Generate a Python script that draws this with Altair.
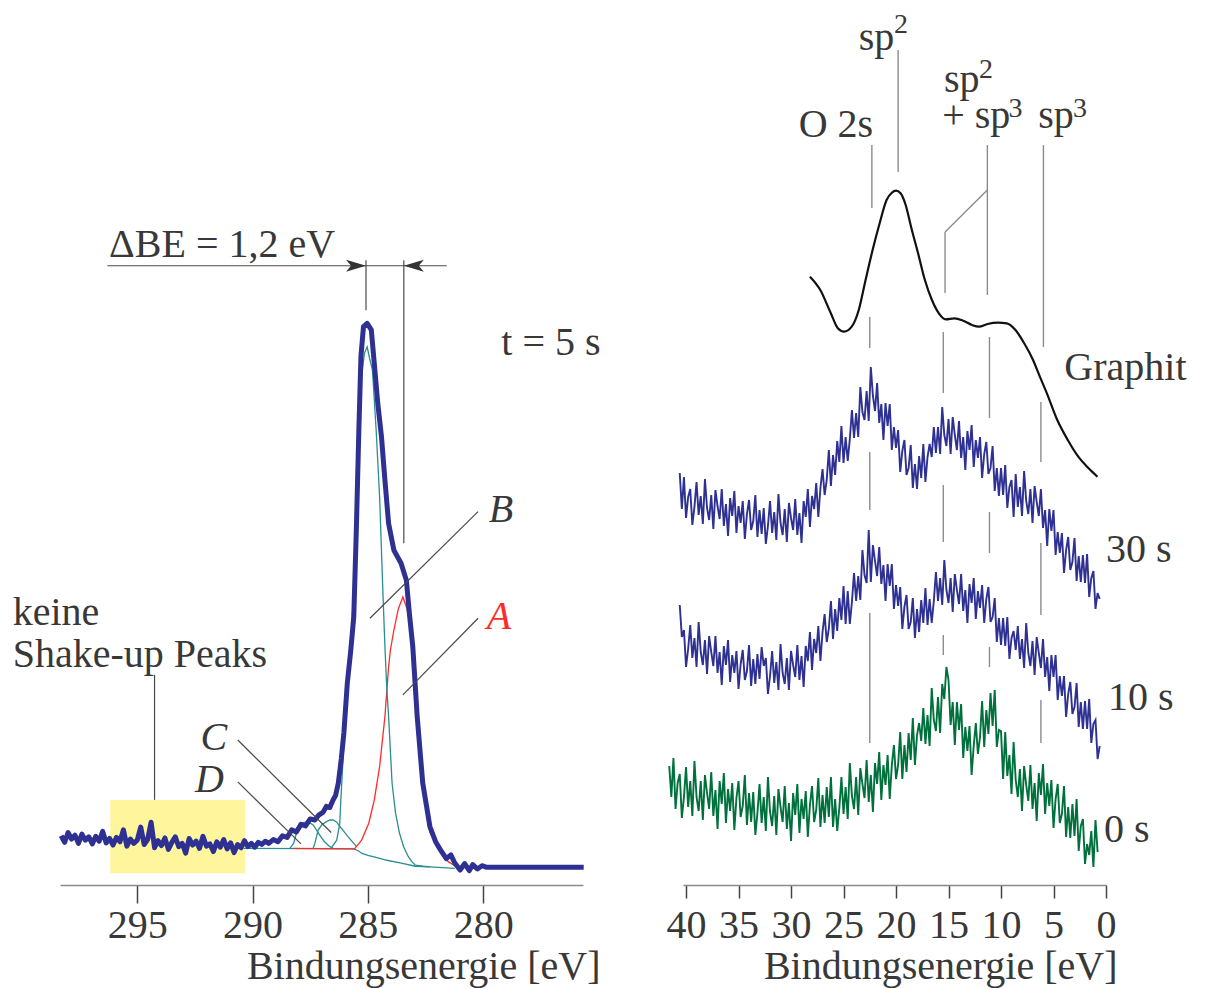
import altair as alt
import pandas as pd

FONT = "Liberation Serif"
INK = "#383838"
LEADER = "#4a4a4a"
GUIDE = "#8c8c8c"
BLUE = "#2e3192"
GREEN = "#00703c"
TEAL = "#2b8e92"
RED = "#ff2b2b"
YELLOW = "#fff59c"

# ---------------- C 1s core level, t = 5 s ----------------
# binding energy in eV, intensity in % of the maximum
c1s_noisy_start = 298.3
c1s_noisy_step = 0.15
c1s_noisy = [5.8, 4.6, 6.4, 5.2, 5.9, 4.4, 6.1, 5.0, 5.6, 4.3,
             5.7, 4.8, 6.6, 4.5, 5.3, 4.1, 5.5, 4.7, 6.9, 3.9,
             5.2, 4.4, 5.0, 7.4, 4.2, 5.1, 8.3, 3.6, 4.9, 4.0,
             5.4, 3.3, 4.6, 5.6, 3.8, 4.4, 2.6, 5.3, 4.1, 4.8,
             3.5, 5.7, 3.9, 4.3, 2.9, 4.7, 3.7, 5.1, 3.4, 4.5,
             2.7, 4.2, 3.6, 4.9, 3.8, 4.4, 3.7, 4.6, 4.2, 4.8]
c1s_ev = [289.3, 289.1, 288.9, 288.7, 288.5, 288.3, 288.1, 287.9, 287.7, 287.5,
          287.3, 287.13, 286.95, 286.8, 286.65, 286.52, 286.4, 286.28, 286.15, 286.04,
          285.89, 285.74, 285.61, 285.5, 285.39, 285.3, 285.19, 285.03, 284.85, 284.72,
          284.57, 284.41, 284.26, 284.1, 283.87, 283.56, 283.33, 283.2, 283.05, 282.86,
          282.62, 282.31, 282.05, 281.85, 281.6, 281.4, 281.23, 281.0, 280.8, 280.6,
          280.45, 280.25, 280.05, 279.84, 275.64]
c1s_int = [4.4, 5.1, 4.7, 5.8, 5.5, 6.9, 6.5, 7.9, 7.6, 8.9,
           8.7, 9.6, 10.1, 11.2, 11.0, 12.3, 13.2, 15.5, 20.0, 24.7,
           33.9, 39.9, 46.1, 62.0, 80.4, 93.9, 99.4, 100.0, 98.8, 92.6,
           85.3, 79.2, 71.2, 63.2, 58.3, 55.9, 52.8, 46.7, 40.5, 27.7,
           15.5, 7.5, 4.6, 3.2, 1.6, 2.3, 0.8, -0.5, 0.7, -0.6,
           0.5, -0.3, 0.3, 0.0, 0.0]

background_ev = [290.4, 285.6, 285.4, 285.27, 285.0, 284.6, 284.18, 283.6, 282.94, 282.3, 281.23]
background_int = [3.5, 3.4, 3.0, 2.6, 2.2, 1.8, 1.3, 0.8, 0.2, 0.1, -0.2]

peak_a_ev = [288.22, 285.58, 285.5, 285.27, 284.96, 284.72, 284.49, 284.26, 284.1, 284.02, 283.87,
             283.68, 283.48, 283.3, 283.2, 283.09, 282.86, 282.62, 282.31, 281.85, 281.5, 281.23]
peak_a_int = [3.5, 3.4, 3.8, 5.0, 8.1, 12.4, 18.5, 27.7, 36.9, 40.0, 43.6,
              47.5, 49.7, 47.5, 45.0, 40.0, 26.0, 14.5, 6.5, 2.6, 1.0, 0.3]

peak_b_ev = [286.6, 286.35, 286.22, 286.17, 286.05, 285.9, 285.72, 285.58, 285.47, 285.37,
             285.28, 285.15, 285.03, 284.92, 284.8, 284.64, 284.49, 284.34, 284.26, 284.18,
             284.1, 283.95, 283.8, 283.63, 283.45, 283.25, 283.1, 282.94, 282.6, 282.31]
peak_b_int = [3.5, 5.0, 8.0, 12.4, 22.0, 32.0, 42.0, 55.0, 68.0, 80.0,
              90.0, 94.5, 95.7, 93.5, 91.4, 80.4, 68.1, 49.7, 40.6, 33.0,
              27.7, 15.5, 10.0, 6.3, 3.8, 2.0, 1.1, 0.4, 0.2, 0.1]

peak_c_ev = [287.37, 287.3, 287.15, 286.98, 286.79, 286.65, 286.5, 286.35, 286.21, 286.04, 285.85, 285.65, 285.49]
peak_c_int = [3.5, 4.4, 6.9, 7.9, 8.4, 8.7, 8.7, 8.3, 7.5, 6.6, 5.6, 4.6, 3.8]

peak_d_ev = [288.38, 288.22, 288.06, 287.83, 287.6, 287.37, 287.13, 286.9, 286.65, 286.5]
peak_d_int = [3.5, 4.4, 6.9, 8.2, 8.4, 7.8, 6.2, 4.8, 3.8, 3.5]

# ---------------- valence band spectra (0.2 eV sampling) ----------------
vb_step = 0.2
vb30_start = 40.6
vb30 = [41.2, 37.6, 40.8, 36.7, 38.8, 39.6, 36.0, 37.8, 40.3, 37.0,
        38.9, 36.1, 40.6, 37.7, 36.5, 39.0, 35.6, 39.5, 37.9, 36.6,
        39.6, 35.9, 38.1, 34.9, 38.7, 36.9, 39.4, 35.2, 37.9, 36.2,
        38.4, 34.6, 37.1, 38.5, 35.5, 36.4, 39.0, 34.8, 37.5, 35.1,
        37.7, 34.1, 35.9, 38.4, 35.2, 37.3, 34.5, 39.1, 36.2, 35.0,
        37.6, 34.3, 38.2, 36.7, 35.5, 38.6, 35.0, 37.2, 34.2, 38.4,
        36.8, 39.6, 35.8, 38.9, 37.6, 40.2, 36.8, 39.7, 41.6, 39.0,
        40.5, 43.5, 39.9, 43.0, 41.0, 44.4, 42.3, 45.9, 42.2, 44.8,
        42.4, 44.6, 47.5, 44.7, 47.2, 44.8, 49.8, 47.3, 46.5, 49.4,
        46.4, 51.8, 48.9, 47.4, 50.2, 46.2, 48.1, 44.5, 48.2, 45.9,
        48.1, 43.5, 45.8, 43.7, 45.5, 41.3, 43.4, 44.5, 41.0, 41.7,
        44.0, 39.7, 42.1, 39.6, 42.9, 40.7, 44.1, 40.3, 42.8, 44.1,
        42.8, 45.8, 43.2, 45.8, 43.1, 47.8, 45.0, 43.9, 46.6, 43.1,
        46.8, 45.0, 43.5, 46.4, 42.7, 44.8, 41.5, 45.4, 43.5, 46.0,
        41.8, 44.5, 42.7, 44.8, 40.7, 43.1, 44.3, 41.1, 41.7, 43.9,
        39.4, 41.7, 38.9, 41.7, 39.0, 42.0, 37.7, 39.8, 40.5, 36.8,
        41.1, 37.8, 39.8, 36.9, 41.4, 38.4, 37.1, 39.6, 36.2, 39.9,
        38.3, 36.9, 39.6, 35.7, 37.5, 33.9, 37.6, 35.4, 37.5, 33.0,
        35.3, 33.2, 35.2, 31.2, 33.5, 34.8, 31.5, 32.3, 34.7, 30.4,
        32.9, 30.3, 33.0, 30.2, 33.1, 28.8, 30.7, 31.4, 27.6, 29.2,
        28.6]
vb10_start = 40.6
vb10 = [28.0, 24.8, 25.5, 21.8, 23.6, 26.0, 22.7, 24.7, 21.8, 26.3,
        23.3, 22.0, 24.5, 21.1, 24.9, 23.3, 21.9, 24.9, 21.2, 23.3,
        20.0, 23.9, 22.0, 24.5, 20.3, 23.0, 21.2, 23.4, 19.6, 22.1,
        23.5, 20.5, 21.4, 24.0, 19.9, 22.6, 20.1, 23.1, 20.6, 23.8,
        21.9, 22.7, 19.1, 20.9, 23.4, 20.2, 22.3, 19.5, 24.1, 21.2,
        20.1, 22.7, 19.5, 23.4, 22.0, 20.8, 24.0, 20.5, 22.9, 19.8,
        23.9, 22.4, 25.3, 21.5, 24.6, 23.2, 25.9, 22.4, 25.3, 27.1,
        24.3, 25.6, 28.4, 24.6, 27.6, 25.4, 28.7, 26.5, 29.9, 26.1,
        29.4, 26.1, 28.3, 31.2, 28.4, 30.9, 28.5, 33.5, 31.0, 30.2,
        35.5, 30.3, 34.0, 32.4, 30.9, 33.8, 30.1, 32.0, 28.4, 32.1,
        29.9, 32.1, 27.6, 30.0, 27.9, 29.8, 25.6, 27.8, 29.0, 25.6,
        26.3, 28.7, 24.7, 27.6, 25.3, 28.5, 26.2, 29.7, 26.0, 28.6,
        26.2, 28.4, 31.3, 28.4, 30.7, 28.0, 32.5, 29.5, 28.2, 30.7,
        27.3, 31.1, 29.5, 28.1, 31.1, 27.4, 29.5, 26.2, 30.1, 28.2,
        30.7, 26.6, 29.4, 27.7, 30.0, 26.2, 28.6, 29.8, 26.3, 26.8,
        28.7, 24.3, 26.7, 24.0, 26.7, 23.9, 26.8, 22.6, 24.7, 25.4,
        23.5, 25.9, 22.6, 24.6, 21.7, 26.2, 23.2, 21.9, 24.4, 21.0,
        24.8, 23.2, 21.7, 24.6, 20.8, 22.8, 19.4, 23.0, 20.8, 23.0,
        18.5, 20.9, 18.9, 20.9, 16.8, 19.1, 20.3, 17.1, 17.8, 20.2,
        15.8, 18.3, 15.6, 18.4, 15.6, 18.6, 14.2, 16.1, 16.5, 12.6,
        13.9]
vb0_start = 41.6
vb0 = [11.9, 8.8, 12.7, 7.6, 10.2, 11.1, 6.7, 8.8, 11.8, 7.8,
       10.4, 6.9, 12.4, 8.8, 7.4, 10.4, 6.5, 11.0, 9.2, 7.6,
       11.3, 6.9, 9.5, 5.6, 10.4, 8.1, 11.2, 6.2, 9.6, 7.4,
       10.2, 5.5, 8.7, 10.4, 6.8, 7.9, 11.0, 6.0, 9.2, 6.3,
       9.3, 5.0, 7.2, 10.1, 6.2, 8.8, 5.4, 10.8, 7.3, 5.9,
       8.9, 5.0, 9.6, 7.8, 6.3, 9.9, 5.6, 8.2, 4.4, 9.2,
       7.0, 10.1, 5.2, 8.6, 6.6, 9.4, 4.8, 8.0, 9.9, 6.3,
       7.5, 10.7, 5.8, 9.0, 6.2, 9.8, 6.8, 10.8, 5.8, 8.6,
       5.4, 7.7, 10.8, 7.1, 9.8, 6.6, 12.2, 8.9, 7.6, 10.8,
       7.0, 11.7, 10.1, 8.7, 12.5, 8.3, 11.0, 7.3, 12.2, 10.1,
       13.3, 8.5, 12.0, 10.0, 13.0, 8.6, 12.0, 14.0, 10.6, 12.0,
       15.3, 10.6, 14.0, 11.3, 15.2, 12.5, 16.7, 12.0, 15.0, 16.2,
       14.4, 17.7, 14.1, 17.0, 13.9, 19.7, 16.5, 15.4, 18.8, 15.2,
       20.1, 18.6, 21.8, 20.5, 16.0, 18.3, 14.0, 18.3, 15.5, 18.1,
       12.7, 15.8, 13.4, 15.9, 11.0, 13.9, 16.2, 13.1, 14.8, 18.4,
       13.8, 17.5, 15.1, 19.2, 15.9, 19.5, 13.8, 15.5, 15.4, 10.6,
       15.3, 10.9, 13.0, 9.1, 14.3, 10.5, 8.8, 11.6, 7.4, 11.9,
       10.0, 8.4, 12.0, 7.6, 10.2, 6.4, 11.2, 9.0, 12.1, 7.1,
       10.2, 7.9, 10.5, 5.7, 8.6, 10.1, 6.2, 7.1, 9.9, 4.8,
       7.8, 4.7, 8.1, 4.9, 8.6, 3.4, 5.9, 6.6, 2.1, 4.1,
       3.0, 5.4, 1.8, 6.5, 3.3]

graphit_ev = [28.2, 27.21, 26.21, 25.54, 24.95, 24.22, 23.55, 22.9, 22.23, 21.56,
              20.9, 20.4, 20.0, 19.57, 19.08, 18.57, 17.9, 17.25, 16.58, 15.92,
              15.26, 14.43, 13.6, 12.76, 12.1, 11.28, 10.28, 9.45, 8.62, 7.79,
              6.95, 6.3, 5.63, 4.64, 3.64, 2.64, 1.65, 0.82]
graphit_int = [60.83, 59.5, 57.17, 55.67, 55.33, 55.83, 57.5, 60.5, 63.5, 66.17,
               68.5, 69.23, 69.43, 69.17, 68.0, 65.83, 63.17, 60.5, 58.5, 57.17,
               56.57, 56.67, 56.43, 56.0, 55.83, 56.1, 56.23, 56.17, 55.5, 54.17,
               52.5, 50.83, 49.17, 46.5, 44.5, 42.83, 41.67, 40.83]

# guide lines for O 2s, sp2, sp2+sp3 and sp3 positions: (x, x2, y, y2)
vb_guides = [
    (19.8, 19.8, 83.5, 71.3), (22.3, 22.3, 74.0, 67.7), (11.3, 11.3, 74.0, 59.0),
    (11.3, 15.33, 69.5, 65.3), (15.33, 15.33, 65.3, 59.2), (5.96, 5.96, 74.0, 53.8),
    (22.5, 22.5, 56.8, 53.7), (22.5, 22.5, 43.3, 37.5), (22.5, 22.5, 27.2, 14.2),
    (15.5, 15.5, 55.3, 49.2), (15.5, 15.5, 40.0, 34.3), (15.5, 15.5, 25.0, 23.0),
    (11.1, 11.1, 54.8, 46.7), (11.1, 11.1, 37.3, 33.2), (11.1, 11.1, 23.8, 21.8),
    (6.2, 6.2, 48.3, 42.3), (6.2, 6.2, 34.2, 27.0), (6.2, 6.2, 18.5, 14.2),
]


def grid(start, step, n):
    return [round(start - step * i, 3) for i in range(n)]


# ================= left panel =================
L_SCALE_X = alt.Scale(domain=[298.35, 275.67], nice=False, zero=False)
L_SCALE_Y = alt.Scale(domain=[-3.25, 156.7], nice=False, zero=False)
L_AXIS = alt.Axis(values=[295, 290, 285, 280], format="d", grid=False,
                  tickSize=18, tickWidth=1.5, tickColor="#444444",
                  domainColor="#8a8a8a", domainWidth=1.5,
                  labelFont=FONT, labelFontSize=40, labelColor=INK, labelPadding=2,
                  labelFlush=False, labelOverlap=False,
                  title="Bindungsenergie [eV]", titleFont=FONT, titleFontSize=40,
                  titleFontWeight="normal", titleColor=INK, titleAlign="right",
                  titleBaseline="alphabetic", titleX=540, titleY=93)


def lx(field):
    return alt.X(f"{field}:Q", scale=L_SCALE_X, axis=L_AXIS)


def ly(field):
    return alt.Y(f"{field}:Q", scale=L_SCALE_Y, axis=None)


main_df = pd.DataFrame({
    "ev": grid(c1s_noisy_start, c1s_noisy_step, len(c1s_noisy)) + c1s_ev,
    "inten": c1s_noisy + c1s_int,
})

comp_rows = []
for name, evs, ints, col in [("Untergrund", background_ev, background_int, TEAL),
                             ("D", peak_d_ev, peak_d_int, TEAL),
                             ("C", peak_c_ev, peak_c_int, TEAL),
                             ("A", peak_a_ev, peak_a_int, RED),
                             ("B", peak_b_ev, peak_b_int, TEAL)]:
    for e, v in zip(evs, ints):
        comp_rows.append({"ev": e, "inten": v, "series": name, "color": col})
comp_df = pd.DataFrame(comp_rows)

box = alt.Chart(pd.DataFrame({"x0": [296.17], "x1": [290.32], "y0": [12.4], "y1": [-1.1]})).mark_rect(
    color=YELLOW).encode(x=lx("x0"), x2="x1", y=ly("y0"), y2="y1")

components = alt.Chart(comp_df).mark_line(strokeWidth=1.3).encode(
    x=lx("ev"), y=ly("inten"), detail="series:N", color=alt.Color("color:N", scale=None))

measured = alt.Chart(main_df).mark_line(color=BLUE, strokeWidth=5, strokeJoin="round").encode(
    x=lx("ev"), y=ly("inten"))

leader_df = pd.DataFrame({
    "x0": [280.22, 280.22, 290.64, 290.64, 294.25, 285.08, 283.44, 296.30],
    "x1": [284.91, 283.48, 286.59, 287.90, 294.25, 285.08, 283.44, 281.58],
    "y0": [65.4, 45.8, 23.4, 15.7, 35.4, 111.6, 111.6, 110.6],
    "y1": [45.8, 31.7, 6.4, 4.3, 12.4, 102.4, 59.6, 110.6],
})
leaders = alt.Chart(leader_df).mark_rule(color=LEADER, strokeWidth=1.2).encode(
    x=lx("x0"), x2="x1", y=ly("y0"), y2="y1")

arrow_right = alt.Chart(pd.DataFrame({"ev": [285.08], "inten": [110.6]})).mark_point(
    shape="M 0 0 L -2 -0.6 L -1.5 0 L -2 0.6 Z", filled=True, size=400, color="#333333", opacity=1
).encode(x=lx("ev"), y=ly("inten"))
arrow_left = alt.Chart(pd.DataFrame({"ev": [283.44], "inten": [110.6]})).mark_point(
    shape="M 0 0 L 2 -0.6 L 1.5 0 L 2 0.6 Z", filled=True, size=400, color="#333333", opacity=1
).encode(x=lx("ev"), y=ly("inten"))

left_text_df = pd.DataFrame({
    "label": ["ΔBE = 1,2 eV", "t = 5 s", "keine", "Shake-up Peaks"],
    "ev": [296.22, 279.21, 300.40, 300.40],
    "inten": [112.2, 94.2, 44.5, 36.8],
})
left_text = alt.Chart(left_text_df).mark_text(
    font=FONT, fontSize=40, align="left", baseline="alphabetic", color=INK
).encode(x=lx("ev"), y=ly("inten"), text="label:N")

peak_label_df = pd.DataFrame({
    "label": ["B", "A", "C", "D"],
    "ev": [279.76, 279.84, 292.26, 292.50],
    "inten": [63.5, 43.9, 21.6, 13.9],
    "color": [INK, RED, INK, INK],
})
peak_labels = alt.Chart(peak_label_df).mark_text(
    font=FONT, fontSize=40, fontStyle="italic", align="left", baseline="alphabetic"
).encode(x=lx("ev"), y=ly("inten"), text="label:N", color=alt.Color("color:N", scale=None))

left = alt.layer(box, components, measured, leaders, arrow_right, arrow_left,
                 left_text, peak_labels).properties(width=523, height=870)

# ================= right panel =================
R_SCALE_X = alt.Scale(domain=[40.29, 0], nice=False, zero=False)
R_SCALE_Y = alt.Scale(domain=[0, 87], nice=False, zero=False)
R_AXIS = alt.Axis(values=[40, 35, 30, 25, 20, 15, 10, 5, 0], format="d", grid=False,
                  tickSize=13, tickWidth=1.5, tickColor="#444444",
                  domainColor="#8a8a8a", domainWidth=1.5,
                  labelFont=FONT, labelFontSize=40, labelColor=INK, labelPadding=7,
                  labelFlush=False, labelOverlap=False,
                  title="Bindungsenergie [eV]", titleFont=FONT, titleFontSize=40,
                  titleFontWeight="normal", titleColor=INK, titleAlign="right",
                  titleBaseline="alphabetic", titleX=434, titleY=93)


def rx(field):
    return alt.X(f"{field}:Q", scale=R_SCALE_X, axis=R_AXIS)


def ry(field):
    return alt.Y(f"{field}:Q", scale=R_SCALE_Y, axis=None)


trace_rows = []
for name, start, vals, col in [("30 s", vb30_start, vb30, BLUE),
                               ("10 s", vb10_start, vb10, BLUE),
                               ("0 s", vb0_start, vb0, GREEN)]:
    for e, v in zip(grid(start, vb_step, len(vals)), vals):
        trace_rows.append({"ev": e, "inten": v, "trace": name, "color": col})
trace_df = pd.DataFrame(trace_rows)

traces = alt.Chart(trace_df).mark_line(strokeWidth=1.9).encode(
    x=rx("ev"), y=ry("inten"), detail="trace:N", color=alt.Color("color:N", scale=None))

graphit = alt.Chart(pd.DataFrame({"ev": graphit_ev, "inten": graphit_int})).mark_line(
    color="#111111", strokeWidth=2.2, interpolate="monotone").encode(x=rx("ev"), y=ry("inten"))

guide_df = pd.DataFrame(vb_guides, columns=["x0", "x1", "y0", "y1"])
guides = alt.Chart(guide_df).mark_rule(color=GUIDE, strokeWidth=1.4).encode(
    x=rx("x0"), x2="x1", y=ry("y0"), y2="y1")

right_text_df = pd.DataFrame({
    "label": ["O 2s", "sp", "sp", "+ sp", "sp", "Graphit", "30 s", "10 s", "0 s"],
    "ev": [29.27, 23.55, 15.43, 15.6, 6.46, 3.97, 0.0, -0.19, 0.19],
    "inten": [74.77, 83.5, 79.33, 75.7, 75.7, 50.5, 32.33, 17.5, 4.33],
})
right_text = alt.Chart(right_text_df).mark_text(
    font=FONT, fontSize=40, align="left", baseline="alphabetic", color=INK
).encode(x=rx("ev"), y=ry("inten"), text="label:N")

sup_df = pd.DataFrame({
    "label": ["2", "2", "3", "3"],
    "ev": [20.19, 12.1, 9.29, 3.14],
    "inten": [85.2, 80.7, 76.83, 76.83],
})
superscripts = alt.Chart(sup_df).mark_text(
    font=FONT, fontSize=28, align="left", baseline="alphabetic", color=INK
).encode(x=rx("ev"), y=ry("inten"), text="label:N")

right = alt.layer(graphit, traces, guides, right_text, superscripts).properties(width=423, height=870)

chart = alt.hconcat(left, right, spacing=100, bounds="flush").properties(
    padding={"left": 12, "top": 10, "right": 6, "bottom": 4}
).configure_view(stroke=None)

chart.save("out.html", embed_options={"renderer": "svg", "actions": False})
